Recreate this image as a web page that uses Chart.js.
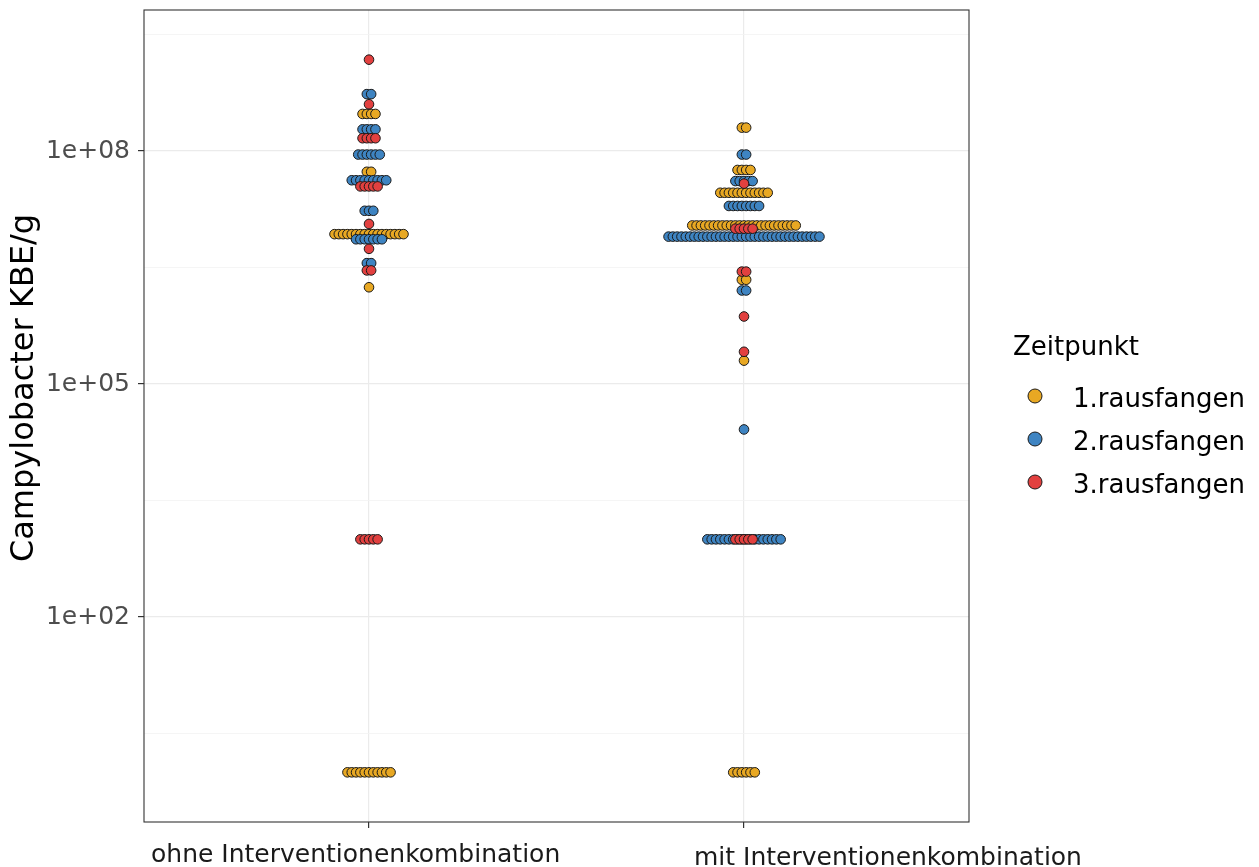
<!DOCTYPE html>
<html>
<head>
<meta charset="utf-8">
<title>Campylobacter KBE/g</title>
<script src="https://cdn.jsdelivr.net/npm/chart.js@4.4.1/dist/chart.umd.min.js"></script>
<style>
  html, body { margin: 0; padding: 0; background: #ffffff; }
  #wrap { position: relative; width: 1259px; height: 867px; }
</style>
</head>
<body>
<div id="wrap"><canvas id="chart"></canvas></div>
<script>
// Categories, series and axis labels
const categories = ['ohne Interventionenkombination', 'mit Interventionenkombination'];
const seriesNames = ['1.rausfangen', '2.rausfangen', '3.rausfangen'];
const yTickValues = [1e2, 1e5, 1e8];
const yTickLabels = ['1e+02', '1e+05', '1e+08'];
const yMinorValues = [Math.pow(10, 0.5), Math.pow(10, 3.5), Math.pow(10, 6.5), Math.pow(10, 9.5)];

// Campylobacter KBE/g levels and number of samples per level
// ohne Interventionenkombination
const ohne1Values = [3e8, 5.4e7, 8.5e6, 1.76e6, 1];
const ohne1Counts = [4, 2, 17, 1, 11];
const ohne2Values = [5.4e8, 1.9e8, 9e7, 4.2e7, 1.7e7, 7.3e6, 3.6e6];
const ohne2Counts = [2, 4, 6, 9, 3, 7, 2];
const ohne3Values = [1.5e9, 4e8, 1.46e8, 3.5e7, 1.15e7, 5.5e6, 2.9e6, 1000];
const ohne3Counts = [1, 1, 4, 5, 1, 1, 2, 5];

// mit Interventionenkombination
const mit1Values = [2e8, 5.7e7, 2.9e7, 1.1e7, 2.2e6, 2e5, 1];
const mit1Counts = [2, 4, 12, 25, 2, 1, 6];
const mit2Values = [9e7, 4.1e7, 1.96e7, 7.9e6, 1.6e6, 2.6e4, 1000];
const mit2Counts = [2, 5, 8, 36, 2, 1, 18];
const mit3Values = [3.8e7, 1e7, 2.8e6, 7.4e5, 2.6e5, 1000];
const mit3Counts = [1, 5, 2, 1, 1, 5];

// Styling
const FONT = 'DejaVu Sans';
const fills = ['#E8A823', '#3E84C2', '#E2403F'];
const DOT_STEP = 0.0115;          // horizontal spacing between stacked dots (x units)

// Centered horizontal stacking of the dots of one level (dot plot)
function stackDots(values, counts, groupPos) {
  const pts = [];
  values.forEach((v, j) => {
    const n = counts[j];
    for (let i = 0; i < n; i++) {
      pts.push({ x: groupPos + (i - (n - 1) / 2) * DOT_STEP, y: v });
    }
  });
  return pts;
}

const seriesData = [
  stackDots(ohne1Values, ohne1Counts, 1).concat(stackDots(mit1Values, mit1Counts, 2)),
  stackDots(ohne2Values, ohne2Counts, 1).concat(stackDots(mit2Values, mit2Counts, 2)),
  stackDots(ohne3Values, ohne3Counts, 1).concat(stackDots(mit3Values, mit3Counts, 2))
];

const datasets = seriesNames.map((name, k) => ({
  label: name,
  data: seriesData[k],
  backgroundColor: fills[k],
  borderColor: '#1a1a1a',
  borderWidth: 1,
  pointRadius: 4.8,
  pointHoverRadius: 4.8,
  order: 2 - k
}));

const isMajorY = v => yTickValues.some(t => Math.abs(Math.log10(v) - Math.log10(t)) < 1e-6);

// Panel frame, axis title, category labels and legend
const decor = {
  id: 'decor',
  afterDraw(chart) {
    const { ctx, chartArea: a, scales } = chart;
    ctx.save();
    ctx.strokeStyle = '#333333';
    ctx.lineWidth = 1.1;
    ctx.strokeRect(a.left, a.top, a.right - a.left, a.bottom - a.top);

    // y axis title
    ctx.save();
    ctx.translate(25, a.top + 378);
    ctx.rotate(-Math.PI / 2);
    ctx.fillStyle = '#000000';
    ctx.font = '32px "' + FONT + '"';
    ctx.textAlign = 'center';
    ctx.textBaseline = 'middle';
    ctx.fillText('Campylobacter KBE/g', 0, 0);
    ctx.restore();

    // category labels under the x axis
    const labelShift = [-218, -50];
    const labelBase = [40, 43];
    ctx.fillStyle = '#1a1a1a';
    ctx.font = '25px "' + FONT + '"';
    ctx.textAlign = 'left';
    ctx.textBaseline = 'alphabetic';
    categories.forEach((c, i) => {
      const px = scales.x.getPixelForValue(i + 1);
      ctx.fillText(c, px + labelShift[i], a.bottom + labelBase[i]);
    });

    // legend
    const lx = a.right + 44;
    ctx.fillStyle = '#000000';
    ctx.font = '26px "' + FONT + '"';
    ctx.fillText('Zeitpunkt', lx, 355);
    seriesNames.forEach((name, k) => {
      const cy = 396 + 43 * k;
      ctx.beginPath();
      ctx.arc(lx + 22, cy, 7, 0, Math.PI * 2);
      ctx.fillStyle = fills[k];
      ctx.fill();
      ctx.strokeStyle = '#1a1a1a';
      ctx.lineWidth = 1;
      ctx.stroke();
      ctx.fillStyle = '#000000';
      ctx.font = '26px "' + FONT + '"';
      ctx.fillText(name, lx + 60, cy + 11);
    });
    ctx.restore();
  }
};

Chart.defaults.font.family = FONT;

new Chart(document.getElementById('chart'), {
  type: 'scatter',
  data: { datasets },
  options: {
    responsive: true,
    maintainAspectRatio: false,
    animation: false,
    events: [],
    layout: { padding: { left: 0, right: 290, top: 10, bottom: 0 } },
    plugins: {
      legend: { display: false },
      tooltip: { enabled: false }
    },
    scales: {
      x: {
        type: 'linear',
        min: 0.4,
        max: 2.6,
        afterBuildTicks: s => { s.ticks = [{ value: 1 }, { value: 2 }]; },
        ticks: { display: false },
        grid: { color: '#EBEBEB', lineWidth: 1.2, tickColor: '#333333', tickLength: 6, drawTicks: true },
        border: { display: false },
        afterFit: s => { s.height = 45; s.paddingLeft = 0; s.paddingRight = 0; }
      },
      y: {
        type: 'logarithmic',
        min: Math.pow(10, -0.6395),
        max: Math.pow(10, 9.8155),
        afterBuildTicks: s => {
          s.ticks = yTickValues.concat(yMinorValues).sort((p, q) => p - q).map(v => ({ value: v }));
        },
        ticks: {
          autoSkip: false,
          padding: 8,
          color: '#4D4D4D',
          font: { family: FONT, size: 25 },
          callback: v => {
            const i = yTickValues.findIndex(t => Math.abs(Math.log10(v) - Math.log10(t)) < 1e-6);
            return i >= 0 ? yTickLabels[i] : '';
          }
        },
        grid: {
          color: ctx => (ctx.tick && isMajorY(ctx.tick.value)) ? '#EBEBEB' : '#F3F3F3',
          lineWidth: ctx => (ctx.tick && isMajorY(ctx.tick.value)) ? 1.2 : 0.8,
          tickColor: ctx => (ctx.tick && isMajorY(ctx.tick.value)) ? '#333333' : 'rgba(0,0,0,0)',
          tickLength: 6,
          drawTicks: true
        },
        border: { display: false },
        afterFit: s => { s.width = 144; s.paddingTop = 0; s.paddingBottom = 0; }
      }
    }
  },
  plugins: [decor]
});
</script>
</body>
</html>
